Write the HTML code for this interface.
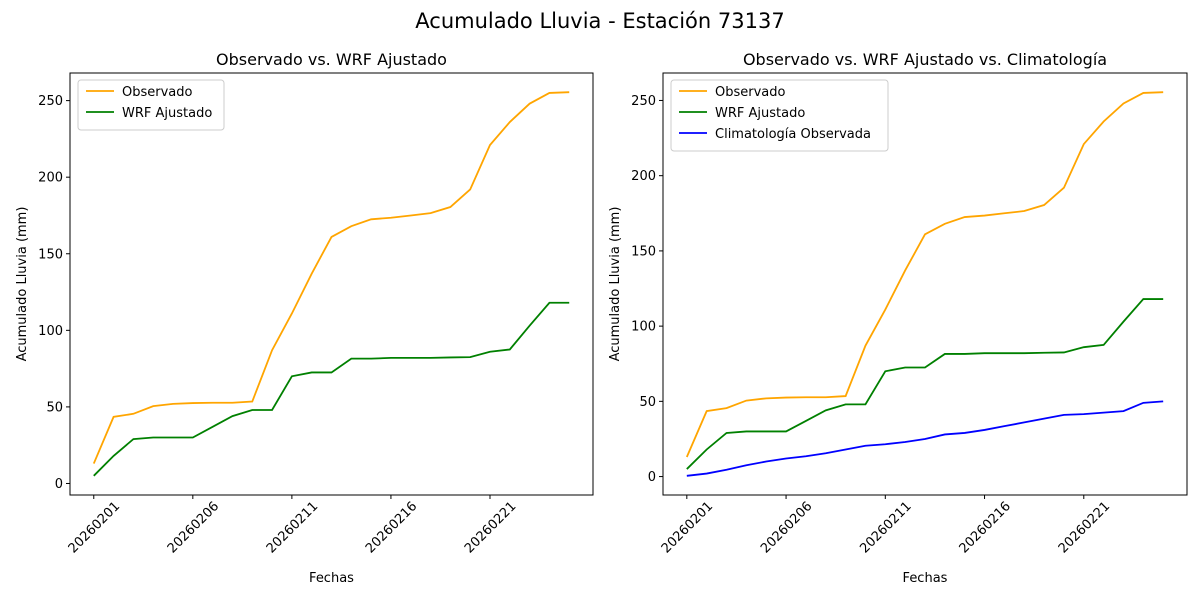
<!DOCTYPE html>
<html><head><meta charset="utf-8"><style>
body{margin:0;background:#fff;font-family:"Liberation Sans","DejaVu Sans",sans-serif;}
svg text{font-family:"DejaVu Sans","Liberation Sans",sans-serif;}
</style></head><body>
<svg id="chart" width="1200" height="600" xmlns="http://www.w3.org/2000/svg">
<rect width="1200" height="600" fill="#fff"/>
<text x="600" y="28" font-size="21" text-anchor="middle">Acumulado Lluvia - Estación 73137</text>
</svg>
<script>
const dates=["20260201","20260202","20260203","20260204","20260205","20260206","20260207","20260208","20260209","20260210","20260211","20260212","20260213","20260214","20260215","20260216","20260217","20260218","20260219","20260220","20260221","20260222","20260223","20260224","20260225"];
const observado=[13,43.5,45.5,50.5,52,52.5,52.7,52.7,53.5,87,111,137,161,168,172.5,173.5,175,176.5,180.5,192,221,236,248,255,255.5];
const wrf=[5,18,29,30,30,30,37,44,48,48,70,72.5,72.5,81.5,81.5,82,82,82,82.3,82.5,86,87.5,103,118,118];
const clim=[0.5,2,4.5,7.5,10,12,13.5,15.5,18,20.5,21.5,23,25,28,29,31,33.5,36,38.5,41,41.5,42.5,43.5,49,50];
const yTicks=[0,50,100,150,200,250];
const xTickIdx=[0,5,10,15,20];
const svg=document.getElementById('chart');
const NS="http://www.w3.org/2000/svg";
function mk(tag,attrs,parent){const e=document.createElementNS(NS,tag);for(const k in attrs)e.setAttribute(k,attrs[k]);(parent||svg).appendChild(e);return e;}
function panel(px,pw,title,series,prefix){
  const top=73,bot=495;
  const g=mk('g',{});
  
  
  let all=[];series.forEach(s=>all=all.concat(s.data));
  const mn=Math.min(...all),mx=Math.max(...all),r=mx-mn;
  const y0=mn-0.05*r,y1=mx+0.05*r;
  const n=dates.length-1;
  const xs=i=>px+pw*(i+n*0.05)/(n*1.1);
  const ys=v=>bot-(v-y0)/(y1-y0)*(bot-top);
  const t=mk('text',{x:px+pw/2,y:65,'font-size':16,'text-anchor':'middle'},g);t.textContent=title;
  
  
  yTicks.forEach(v=>{const y=ys(v);mk('line',{x1:px-4,x2:px,y1:y,y2:y,stroke:'#000'},g);
    const l=mk('text',{x:px-7,y:y+4.5,'font-size':13,'text-anchor':'end'},g);l.textContent=v;
    
    });
  xTickIdx.forEach(i=>{const x=xs(i);mk('line',{x1:x,x2:x,y1:bot,y2:bot+4,stroke:'#000'},g);
    const cy=bot+32;
    const l=mk('text',{x:x,y:cy+4.5,'font-size':13,'text-anchor':'middle',transform:`rotate(-45 ${x} ${cy})`},g);l.textContent=dates[i];
    
    });
  series.forEach(s=>{const p=mk('polyline',{points:s.data.map((v,i)=>xs(i)+','+ys(v)).join(' '),fill:'none',stroke:s.color,'stroke-width':1.8},g);
    
    });
  mk('rect',{x:px,y:top,width:pw,height:bot-top,fill:'none',stroke:'#000','stroke-width':1},g);
  const xl=mk('text',{x:px+pw/2,y:582,'font-size':13,'text-anchor':'middle'},g);xl.textContent='Fechas';
  
  
  const yl=mk('text',{x:0,y:0,'font-size':13,'text-anchor':'middle',transform:`translate(${px-44},${(top+bot)/2}) rotate(-90)`},g);yl.textContent='Acumulado Lluvia (mm)';
  
  
  const lw=prefix==='left'?146:217;
  const lg=mk('g',{},g);
  
  
  mk('rect',{x:px+8,y:80,width:lw,height:8+series.length*21,fill:'#fff',stroke:'#ccc',rx:3},lg);
  series.forEach((s,k)=>{const y=91+k*21;
    mk('line',{x1:px+16,x2:px+44,y1:y,y2:y,stroke:s.color,'stroke-width':1.8},lg);
    const tx=mk('text',{x:px+52,y:y+5,'font-size':13},lg);tx.textContent=s.label;
    
    });
}
panel(70,523,'Observado vs. WRF Ajustado',[{data:observado,color:'orange',label:'Observado',key:'observado'},{data:wrf,color:'green',label:'WRF Ajustado',key:'wrf'}],'left');
panel(663,524,'Observado vs. WRF Ajustado vs. Climatología',[{data:observado,color:'orange',label:'Observado',key:'observado'},{data:wrf,color:'green',label:'WRF Ajustado',key:'wrf'},{data:clim,color:'blue',label:'Climatología Observada',key:'clim'}],'right');
</script>
</body></html>
